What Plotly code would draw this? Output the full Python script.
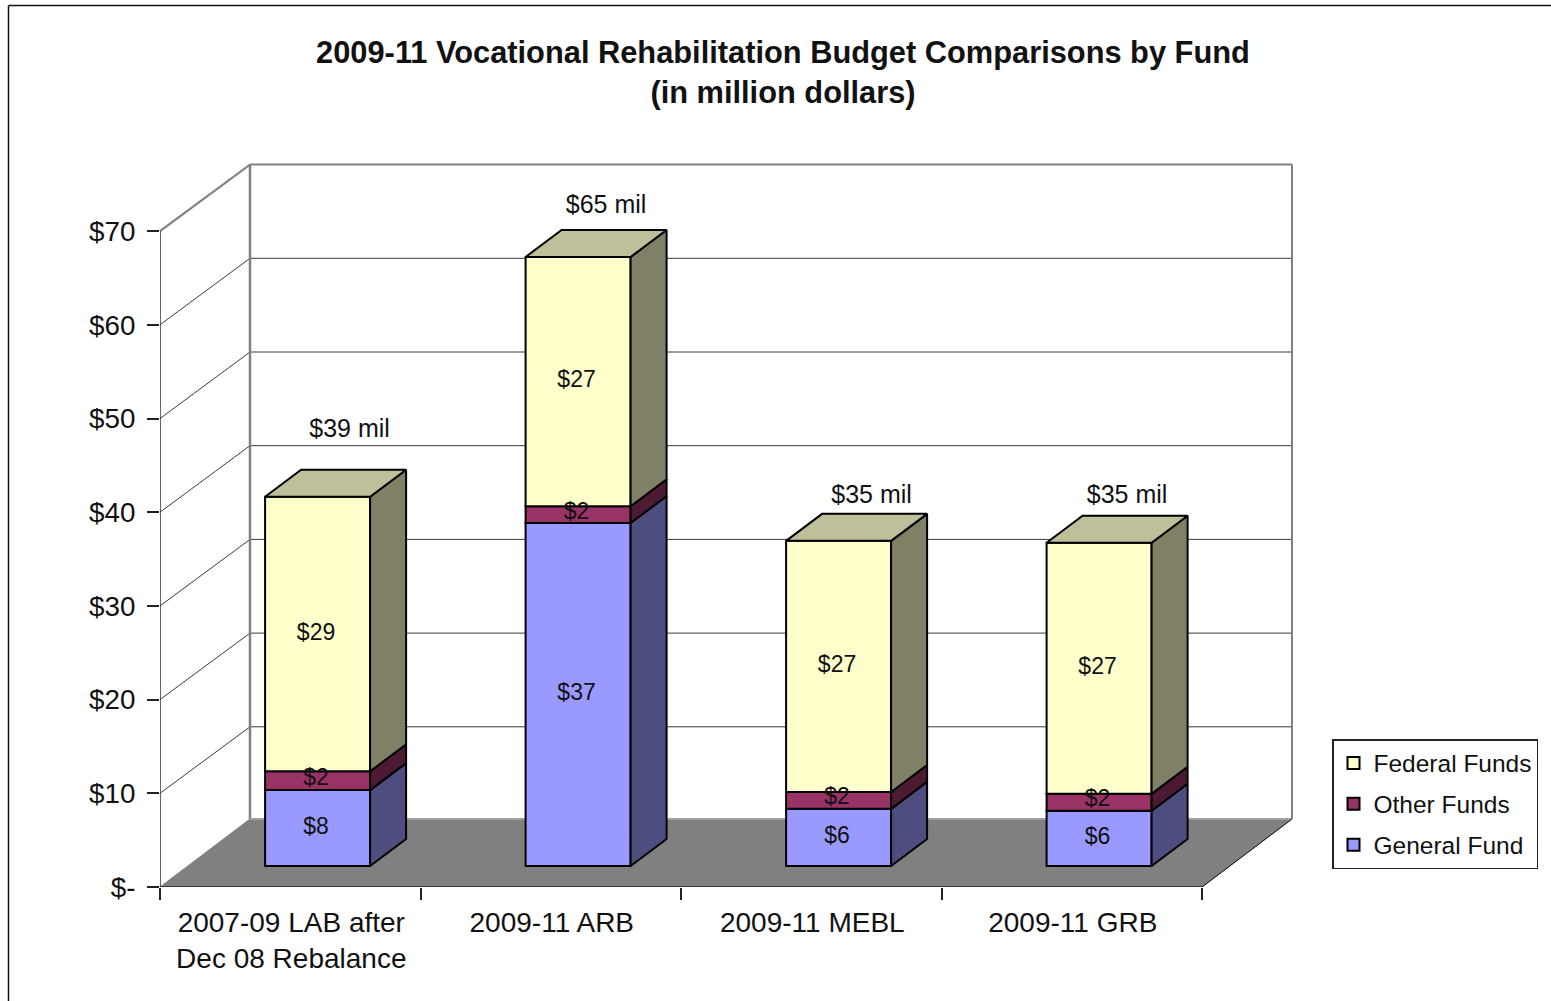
import plotly.graph_objects as go

# ─── data ─────────────────────────────────────────────────────────────────────
categories = ["2007-09 LAB after<br>Dec 08 Rebalance", "2009-11 ARB", "2009-11 MEBL", "2009-11 GRB"]
general_fund = [8.1, 36.6, 6.1, 5.9]
other_funds = [2.0, 1.8, 1.8, 1.8]
federal_funds = [29.3, 26.6, 26.8, 26.8]
general_labels = ["$8", "$37", "$6", "$6"]
other_labels = ["$2", "$2", "$2", "$2"]
federal_labels = ["$29", "$27", "$27", "$27"]
total_labels = ["$39 mil", "$65 mil", "$35 mil", "$35 mil"]
y_ticks = [0, 10, 20, 30, 40, 50, 60, 70]
y_tick_labels = ["$-", "$10", "$20", "$30", "$40", "$50", "$60", "$70"]

# ─── geometry of the fake 3D box, in axis units ───────────────────────────────
W, H = 1551, 1001
PLOT_L, PLOT_R, PLOT_T, PLOT_B = 160, 1293, 160, 887
X_PX = 260.5   # pixels per category
Y_PX = 9.37    # pixels per million
WALL_DX, WALL_DY = 90 / X_PX, 66.5 / Y_PX
FLOOR_DY = 68 / Y_PX
BAR_DX, BAR_DY = 36 / X_PX, 27 / Y_PX
BAR_W = 105 / X_PX
BAR_SHIFT, BAR_LIFT = 0.105, 21 / Y_PX
TOTAL_DX = [32, 28, 33, 28]   # px from bar centre to its total label
TOTAL_DY = [66, 50, 44, 46]   # px from bar top to its total label
n_cat = len(categories)
X_END = float(n_cat)
FONT = "Liberation Sans, Arial, sans-serif"
GREY = "#808080"
DARK = "#3a3a3a"

fig = go.Figure()
shapes = []


def seg(x0, y0, x1, y1, color, width, xref="x", yref="y"):
    shapes.append(dict(type="line", x0=x0, y0=y0, x1=x1, y1=y1, xref=xref, yref=yref,
                       line=dict(color=color, width=width), layer="below"))


# floor
shapes.append(dict(type="path", xref="x", yref="y", layer="below",
                   path=f"M 0 0 L {X_END} 0 L {X_END + WALL_DX} {FLOOR_DY} L {WALL_DX} {FLOOR_DY} Z",
                   fillcolor=GREY, line=dict(color=GREY, width=1)))
# gridlines on the side wall and the back wall
for t in y_ticks[1:-1]:
    seg(0, t, WALL_DX, t + WALL_DY, DARK, 1)
    seg(WALL_DX, t + WALL_DY, X_END + WALL_DX, t + WALL_DY, DARK, 1)
top = y_ticks[-1]
seg(0, top, WALL_DX, top + WALL_DY, GREY, 2)
seg(WALL_DX, top + WALL_DY, X_END + WALL_DX, top + WALL_DY, GREY, 2)
seg(WALL_DX, FLOOR_DY, WALL_DX, top + WALL_DY, GREY, 2.5)
seg(X_END + WALL_DX, FLOOR_DY, X_END + WALL_DX, top + WALL_DY, GREY, 2)
seg(WALL_DX, FLOOR_DY, X_END + WALL_DX, FLOOR_DY, "#a0a0a0", 2)
seg(X_END, 0, X_END + WALL_DX, FLOOR_DY, "#111111", 1)
# front axis lines
seg(0, 0, 0, top, "#333333", 1.5)
seg(0, 0, X_END, 0, "#222222", 1.5)
# chart frame, runs off the page to the right and the bottom
seg(8.5 / W, 0, 8.5 / W, 1 - 5.5 / H, "#111111", 1.5, "paper", "paper")
seg(8.5 / W, 1 - 5.5 / H, 1, 1 - 5.5 / H, "#111111", 1.5, "paper", "paper")

# ─── stacked bars: front faces, then side and top faces ───────────────────────
series = [
    ("General Fund", general_fund, general_labels, "#9999FF", "#4D4D80", 3),
    ("Other Funds", other_funds, other_labels, "#993366", "#4D1A33", 2),
    ("Federal Funds", federal_funds, federal_labels, "#FFFFCC", "#808066", 1),
]
centers = [i + 0.5 + BAR_SHIFT for i in range(n_cat)]
bases = [BAR_LIFT] * n_cat
for name, values, labels, color, side, rank in series:
    fig.add_trace(go.Bar(x=centers, y=values, base=bases, width=BAR_W, name=name,
                         legendgroup=name, legendrank=rank,
                         marker=dict(color=color, line=dict(color="black", width=2))))
    for c, b, v in zip(centers, bases, values):
        right = c + BAR_W / 2
        fig.add_trace(go.Scatter(
            x=[right, right + BAR_DX, right + BAR_DX, right, right],
            y=[b, b + BAR_DY, b + v + BAR_DY, b + v, b],
            mode="lines", fill="toself", fillcolor=side, showlegend=False, hoverinfo="skip",
            line=dict(color="black", width=2)))
    fig.add_trace(go.Scatter(
        x=[c - 0.006 for c in centers],
        y=[b + v / 2 + (0.2 if v < 3 else 0) for b, v in zip(bases, values)],
        text=labels, mode="text", showlegend=False, hoverinfo="skip",
        textfont=dict(family=FONT, size=23, color="#111111")))
    bases = [b + v for b, v in zip(bases, values)]

# top faces and the totals above them
for c, b in zip(centers, bases):
    left, right = c - BAR_W / 2, c + BAR_W / 2
    fig.add_trace(go.Scatter(
        x=[left, left + BAR_DX, right + BAR_DX, right, left],
        y=[b, b + BAR_DY, b + BAR_DY, b, b],
        mode="lines", fill="toself", fillcolor="#BFBF99", showlegend=False, hoverinfo="skip",
        line=dict(color="black", width=2)))
fig.add_trace(go.Scatter(
    x=[c + d / X_PX for c, d in zip(centers, TOTAL_DX)],
    y=[b + d / Y_PX for b, d in zip(bases, TOTAL_DY)],
    text=total_labels, mode="text", showlegend=False, hoverinfo="skip",
    textfont=dict(family=FONT, size=25, color="#111111")))

fig.update_layout(
    width=W, height=H, autosize=False,
    margin=dict(l=0, r=0, t=0, b=0),
    paper_bgcolor="white", plot_bgcolor="white",
    barmode="overlay", shapes=shapes,
    font=dict(family=FONT, color="#111111"),
    title=dict(text="<b>2009-11 Vocational Rehabilitation Budget Comparisons by Fund<br>(in million dollars)</b>",
               x=783 / W, xanchor="center", y=1 - 63 / H, yanchor="top",
               font=dict(family=FONT, size=30.8, color="#111111")),
    xaxis=dict(domain=[PLOT_L / W, PLOT_R / W], automargin=False,
               range=[0, (PLOT_R - PLOT_L) / X_PX],
               tickvals=[i + 0.504 for i in range(n_cat)], ticktext=categories,
               ticks="", showgrid=False, zeroline=False, showline=False,
               ticklabelstandoff=16,
               tickfont=dict(family=FONT, size=28, color="#111111"),
               minor=dict(tick0=0, dtick=1, ticks="outside", ticklen=12, tickcolor="#222222", tickwidth=1.5, showgrid=False)),
    yaxis=dict(domain=[1 - PLOT_B / H, 1 - PLOT_T / H], automargin=False,
               range=[0, (PLOT_B - PLOT_T) / Y_PX],
               tickvals=y_ticks, ticktext=y_tick_labels,
               ticks="outside", ticklen=12, tickcolor="#222222", tickwidth=1.5,
               ticklabelstandoff=6,
               showgrid=False, zeroline=False, showline=False,
               tickfont=dict(family=FONT, size=27.8, color="#111111")),
    legend=dict(x=1332 / W, xanchor="left", y=1 - 739 / H, yanchor="top",
                traceorder="grouped", tracegroupgap=6,
                bgcolor="white", bordercolor="#222222", borderwidth=1.5,
                font=dict(family=FONT, size=24.5, color="#111111"), itemclick=False, itemdoubleclick=False),
)

# plotly's page keeps the browser's default body margin, drop it so pixels line up
fig.write_html("out.html", config={"displayModeBar": False},
               post_script="document.body.style.margin='0';")
